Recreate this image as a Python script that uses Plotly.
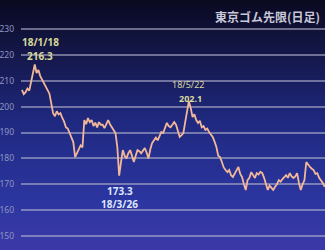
import plotly.graph_objects as go

# trading-day index and daily price
days = list(range(166))
prices = [
    206.5, 204.8, 205.6, 207.0, 206.2, 209.5, 213.5, 216.3, 213.0, 214.2,
    211.8, 210.3, 209.2, 207.8, 206.4, 205.0, 201.4, 197.5, 196.3, 198.2,
    197.0, 197.5, 195.6, 194.2, 192.0, 191.5, 189.8, 188.2, 186.3, 180.5,
    182.0, 183.2, 185.0, 184.2, 194.8, 193.2, 195.6, 194.0, 194.8, 192.5,
    193.8, 192.0, 194.0, 193.0, 193.0, 191.7, 193.5, 194.8, 193.2, 192.0,
    190.5, 189.8, 184.4, 173.3, 178.5, 183.2, 181.0, 180.0, 182.0, 183.2,
    181.0, 178.6, 181.0, 183.2, 182.8, 182.0, 183.0, 184.0, 182.2, 180.0,
    183.5, 186.0, 187.0, 188.0, 187.0, 188.5, 190.2, 189.8, 191.5, 193.7,
    192.5, 192.0, 193.0, 194.0, 193.0, 190.5, 188.3, 189.0, 189.8, 194.0,
    197.5, 202.1, 199.5, 196.0, 197.0, 194.8, 193.7, 194.5, 192.0, 192.5,
    191.0, 191.5, 190.2, 189.0, 188.3, 186.5, 184.4, 181.0, 180.5, 178.6,
    176.5, 175.5, 174.7, 175.5, 173.5, 172.8, 174.3, 175.5, 176.7, 174.0,
    172.8, 170.0, 167.8, 171.6, 172.5, 174.7, 173.5, 172.4, 174.3, 173.8,
    174.8, 174.3, 172.5, 170.5, 167.8, 169.5, 168.6, 167.8, 169.0, 170.0,
    171.6, 171.0, 172.0, 172.8, 173.5, 172.5, 174.3, 173.0, 172.4, 173.0,
    174.3, 170.5, 167.8, 170.0, 171.6, 178.6, 177.5, 176.7, 176.0, 175.5,
    174.0, 174.3, 172.5, 171.6, 170.5, 169.0,
]
tick_vals = [150, 160, 170, 180, 190, 200, 210, 220, 230]
tick_text = [str(v) for v in tick_vals]

title = "東京ゴム先限(日足)"
hi1_day, hi1_date = 7, "18/1/18"
lo_day, lo_date = 53, "18/3/26"
hi2_day, hi2_date = 91, "18/5/22"

fig = go.Figure()
fig.add_trace(go.Scatter(x=days, y=prices, mode="lines",
                         line=dict(color="#f2b899", width=1.8),
                         showlegend=False, hoverinfo="skip"))

# vertical gradient background
stops = [(0.0, (10, 10, 32)), (0.25, (22, 26, 80)), (0.5, (32, 42, 130)),
         (0.8, (44, 54, 160)), (1.0, (60, 58, 168))]
def col(t):
    for (t0, c0), (t1, c1) in zip(stops[:-1], stops[1:]):
        if t0 <= t <= t1:
            f = (t - t0) / (t1 - t0)
            return "rgb(%d,%d,%d)" % tuple(int(c0[i] + (c1[i] - c0[i]) * f) for i in range(3))
    return "rgb(%d,%d,%d)" % stops[-1][1]
N = 60
shapes = []
for i in range(N):
    t = (i + 0.5) / N
    shapes.append(dict(type="rect", xref="paper", yref="paper",
                       x0=-0.1, x1=1.05, y0=1 - (i + 1) / N - 0.002, y1=1 - i / N + 0.002,
                       fillcolor=col(t), line=dict(width=0), layer="below"))

yel = "#d9d99a"
annotations = [
    dict(x=hi1_day, y=prices[hi1_day], text="<b>" + hi1_date + "</b>", showarrow=False,
         yshift=22, xshift=6, font=dict(family="Noto Sans", size=10, color=yel)),
    dict(x=hi1_day, y=prices[hi1_day], text="<b>%.1f</b>" % prices[hi1_day], showarrow=False,
         yshift=8, xshift=5, font=dict(family="Noto Sans", size=10, color=yel)),
    dict(x=hi2_day, y=prices[hi2_day], text=hi2_date, showarrow=False,
         yshift=17, xshift=-1, font=dict(family="Noto Sans", size=9, color=yel)),
    dict(x=hi2_day, y=prices[hi2_day], text="<b>%.1f</b>" % prices[hi2_day], showarrow=False,
         yshift=3, xshift=2, font=dict(family="Noto Sans", size=9, color=yel)),
    dict(x=lo_day, y=prices[lo_day], text="<b>%.1f</b>" % prices[lo_day], showarrow=False,
         yshift=-15, xshift=1, font=dict(family="Noto Sans", size=10, color="#dde6ff")),
    dict(x=lo_day, y=prices[lo_day], text="<b>" + lo_date + "</b>", showarrow=False,
         yshift=-28, xshift=0, font=dict(family="Noto Sans", size=10, color="#dde6ff")),
    dict(xref="paper", yref="paper", x=1.0, y=1.0, xanchor="right", yanchor="top",
         xshift=-3, yshift=-6, text="<b>" + title + "</b>", showarrow=False,
         font=dict(family="Noto Sans CJK JP", size=12, color="#c8c8d8")),
]

fig.update_layout(
    width=325, height=250,
    margin=dict(l=21, r=0, t=0, b=0),
    paper_bgcolor="rgb(10,10,32)", plot_bgcolor="rgba(0,0,0,0)",
    shapes=shapes, annotations=annotations,
    xaxis=dict(range=[-0.5, 165.2], visible=False, showgrid=False, zeroline=False),
    yaxis=dict(range=[144.6, 241.2], tickvals=tick_vals, ticktext=tick_text,
               showgrid=True, gridcolor="rgba(185,185,210,0.55)", gridwidth=1.5,
               zeroline=False, showline=False, ticks="",
               tickfont=dict(family="Noto Sans", size=8.5, color="#8f95c0"),
               ticklabelstandoff=6),
)
fig.write_html("out.html")
